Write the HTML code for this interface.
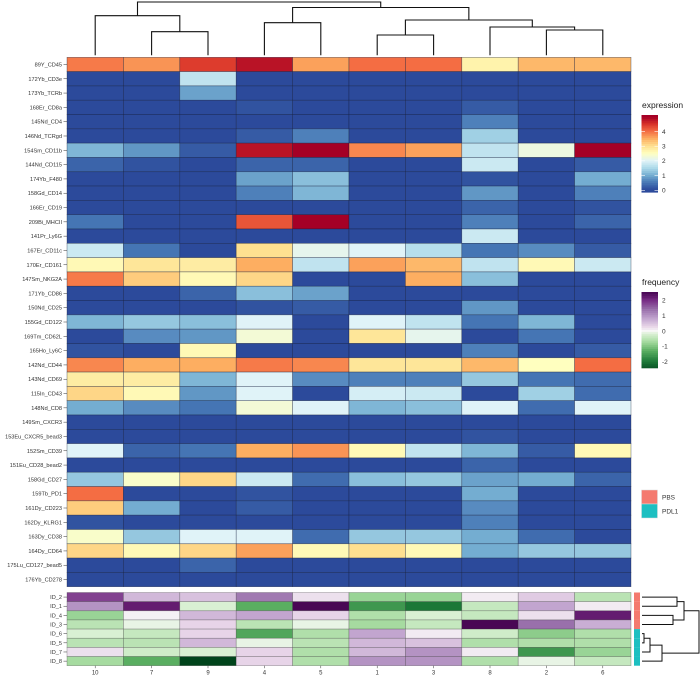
<!DOCTYPE html>
<html><head><meta charset="utf-8"><style>
html,body{margin:0;padding:0;background:#fff;}
svg{display:block;font-family:"Liberation Sans",sans-serif;}
</style></head><body>
<svg id="chart" width="700" height="677" viewBox="0 0 700 677" xmlns="http://www.w3.org/2000/svg"></svg>
<script>
const clusters=["10","7","9","4","5","1","3","8","2","6"];
const markers=["89Y_CD45","172Yb_CD3e","173Yb_TCRb","168Er_CD8a","145Nd_CD4","146Nd_TCRgd","154Sm_CD11b","144Nd_CD115","174Yb_F480","158Gd_CD14","166Er_CD19","209Bi_MHCII","141Pr_Ly6G","167Er_CD11c","170Er_CD161","147Sm_NKG2A","171Yb_CD86","150Nd_CD25","155Gd_CD122","169Tm_CD62L","165Ho_Ly6C","142Nd_CD44","143Nd_CD69","115In_CD43","148Nd_CD8","149Sm_CXCR3","153Eu_CXCR5_bead3","152Sm_CD39","151Eu_CD28_bead2","158Gd_CD27","159Tb_PD1","161Dy_CD223","162Dy_KLRG1","163Dy_CD38","164Dy_CD64","175Lu_CD127_bead5","176Yb_CD278"];
const expression=[
[3.9,3.7,4.4,4.8,3.6,4.0,4.0,2.7,3.4,3.4],
[0,0,1.7,0,0,0,0,0,0,0],
[0,0,0.9,0,0,0,0,0,0,0],
[0,0,0,0.1,0,0,0,0.2,0,0],
[0,0,0,0,0,0,0,0.6,0,0],
[0,0,0,0.2,0.6,0,0,1.4,0,0],
[1.1,0.8,0.2,4.8,5.0,3.8,3.6,1.7,2.2,5.0],
[0.3,0.1,0,0.3,0.3,0,0,1.8,0,0.2],
[0,0,0,0.9,1.2,0,0,0.1,0,1.0],
[0,0,0,0.6,1.1,0,0,0.8,0,0.6],
[0,0,0,0,0,0,0,0.3,0,0.1],
[0.5,0,0,4.2,5.0,0,0,0.6,0,0.3],
[0,0,0,0,0,0,0,1.8,0,0],
[1.8,0.5,0,3.0,2.1,2.0,1.6,0.5,0.7,0.2],
[2.6,2.9,2.8,3.5,1.7,3.6,3.4,1.7,2.6,1.8],
[3.9,3.2,2.6,3.1,0,0,3.5,1.2,0,0],
[0,0,0.3,1.2,0.9,0,0,0,0,0],
[0,0,0,0.1,0.2,0,0,0.8,0,0],
[1.1,1.3,1.2,2.0,0,2.0,1.7,0.5,1.1,0],
[0,0.7,0.8,2.3,0,2.9,2.1,0,0.5,0],
[0.1,0,2.6,0,0,0,0,0.6,0,0.2],
[3.8,3.5,3.5,3.9,3.8,2.9,2.9,3.4,2.5,4.0],
[2.8,2.8,1.1,2.0,0.7,0.6,0.6,1.3,0.5,0.4],
[3.1,2.6,0.8,2.0,0,1.9,1.8,0,1.4,0.4],
[1.0,0.7,0.5,2.3,2.0,1.1,1.2,2.0,0.4,2.0],
[0,0,0,0,0,0,0,0,0,0],
[0,0,0,0,0,0,0,0.1,0,0],
[2.0,0.3,0.5,3.5,3.7,2.6,1.7,1.1,0.2,2.6],
[0,0,0,0,0,0,0,0.3,0,0],
[1.3,2.4,3.1,1.8,0.4,1.2,1.3,0.9,1.0,0.3],
[4.0,0,0,0.1,0,0,0,1.0,0,0],
[3.2,1.0,0,0.2,0,0,0,0.7,0,0],
[0.1,0,0,0,0,0,0,0.6,0,0],
[2.4,1.3,2.0,2.0,0.4,1.3,1.3,1.0,0.4,0],
[3.1,2.6,3.1,3.6,2.6,3.0,2.6,1.0,1.3,1.3],
[0,0,0.3,0,0,0,0,0,0,0],
[0,0,0,0,0,0,0,0,0,0]];
const samples=["ID_2","ID_1","ID_4","ID_3","ID_6","ID_5","ID_7","ID_8"];
const sampleGroup=["PBS","PBS","PBS","PBS","PDL1","PDL1","PDL1","PDL1"];
const frequency=[
[1.8,0.6,0.5,1.3,0.2,-0.8,-0.8,0.1,0.4,-0.5],
[1.0,2.2,-0.2,-1.3,2.5,-1.6,-2.0,-0.4,0.8,0.1],
[-0.8,0.05,0.6,0.8,0.3,-0.6,-0.2,-0.4,0.2,2.2],
[-0.5,-0.1,0.3,-0.5,-0.1,-0.7,-0.4,2.5,1.4,0.7],
[-0.2,-0.4,0.3,-1.4,-0.6,0.8,0.1,-0.3,-0.9,-0.6],
[-0.5,-0.5,0.6,-0.1,-0.5,0.6,0.5,-0.6,-0.6,-0.6],
[0.2,-0.3,-0.2,0.3,-0.6,0.6,1.0,0.1,-1.6,-0.8],
[-0.7,-1.3,-2.6,0.3,-0.6,1.0,1.0,-0.6,-0.1,-0.4]];
const expTicks=[0,1,2,3,4];
const freqTicks=[2,1,0,-1,-2];
// column dendrogram merges: [a,b,heightY]; leaves are indices, nodes "n#"
const colMerges=[[1,2,31.7],[7+1,9,30],[0,"n0",15.7],[3,4,22.7],[5,6,35],[7,"n1",27],["n4","n5",20],["n3","n6",7.5],["n2","n7",2]];
const rowMerges=[[0,1,677],[2,3,673],[4,5,644],["n2",6,650],["n3",7,662],["n0","n1",684],["n4","n5",699]];

const NS="http://www.w3.org/2000/svg",svg=document.getElementById("chart");
function mk(t,a,p){const e=document.createElementNS(NS,t);for(const k in a)e.setAttribute(k,a[k]);(p||svg).appendChild(e);return e;}
const X0=67,X1=631,Y0=57.3,Y1=586.7,BY0=592.5,BY1=665.7;
const cw=(X1-X0)/clusters.length,rh=(Y1-Y0)/markers.length,brh=(BY1-BY0)/samples.length;
const xc=i=>X0+i*cw, yr=i=>Y0+i*rh, yb=i=>BY0+i*brh;
function lerp(stops,v){if(v<=stops[0][0])return stops[0][1];for(let i=1;i<stops.length;i++){if(v<=stops[i][0]){const a=stops[i-1],b=stops[i],t=(v-a[0])/(b[0]-a[0]);const c1=a[1],c2=b[1];const h=s=>[1,3,5].map(j=>parseInt(s.substr(j,2),16));const p=h(c1),q=h(c2);return"rgb("+p.map((x,k)=>Math.round(x+(q[k]-x)*t)).join(",")+")";}}return stops[stops.length-1][1];}
const expStops=[[0,"#2c4a9b"],[0.5,"#4575b4"],[1,"#74add1"],[1.5,"#abd9e9"],[2,"#e0f3f8"],[2.5,"#ffffbf"],[3,"#fee090"],[3.5,"#fdae61"],[4,"#f46d43"],[4.5,"#d73027"],[5,"#a50026"]];
const frStops=[[-2.6,"#00441b"],[-2,"#1b7837"],[-1.3,"#5aae61"],[-0.7,"#a6dba0"],[-0.2,"#d9f0d3"],[0,"#f7f7f7"],[0.3,"#e7d4e8"],[0.8,"#c2a5cf"],[1.4,"#9970ab"],[2,"#762a83"],[2.6,"#40004b"]];
const expColor=v=>lerp(expStops,v), frColor=v=>lerp(frStops,v);

// main heatmap
const g1=mk("g",{});
expression.forEach((row,r)=>row.forEach((v,c)=>{const e=mk("rect",{x:xc(c),y:yr(r),width:cw,height:rh,fill:expColor(v),stroke:"rgba(20,30,60,0.55)","stroke-width":0.6},g1);

}));
markers.forEach((m,r)=>{const t=mk("text",{x:62,y:yr(r)+rh/2+2,"text-anchor":"end","font-size":5.6,fill:"#333"});t.textContent=m;


mk("line",{x1:63.5,x2:67,y1:yr(r)+rh/2,y2:yr(r)+rh/2,stroke:"#333","stroke-width":0.5});});

// bottom heatmap
const g2=mk("g",{});
frequency.forEach((row,r)=>row.forEach((v,c)=>{const e=mk("rect",{x:xc(c),y:yb(r),width:cw,height:brh,fill:frColor(v),stroke:"rgba(60,60,60,0.45)","stroke-width":0.6},g2);

}));
samples.forEach((s,r)=>{const t=mk("text",{x:62,y:yb(r)+brh/2+2,"text-anchor":"end","font-size":5.6,fill:"#333"});t.textContent=s;


mk("line",{x1:63.5,x2:67,y1:yb(r)+brh/2,y2:yb(r)+brh/2,stroke:"#333","stroke-width":0.5});
const a=mk("rect",{x:634,y:yb(r),width:6,height:brh,fill:sampleGroup[r]==="PBS"?"#f47a6f":"#1dbfc1"});

});
clusters.forEach((c,i)=>{mk("line",{x1:xc(i)+cw/2,x2:xc(i)+cw/2,y1:BY1,y2:BY1+2.5,stroke:"#333","stroke-width":0.5});
const t=mk("text",{x:xc(i)+cw/2,y:674.5,"text-anchor":"middle","font-size":6,fill:"#333"});t.textContent=c;

});

// column dendrogram
const gd=mk("g",{stroke:"#111","stroke-width":1.1,fill:"none"});
const cn=[];const cpos=a=>typeof a==="string"?cn[+a.slice(1)]:{x:xc(a)+cw/2,y:Y0-2};
colMerges.forEach(m=>{const a=cpos(m[0]),b=cpos(m[1]),h=m[2];mk("path",{d:`M${a.x},${a.y}V${h}H${b.x}V${b.y}`},gd);cn.push({x:(a.x+b.x)/2,y:h});});
// row dendrogram
const gr=mk("g",{stroke:"#111","stroke-width":1,fill:"none"});
const rn=[];const rpos=a=>typeof a==="string"?rn[+a.slice(1)]:{x:642,y:yb(a)+brh/2};
rowMerges.forEach(m=>{const a=rpos(m[0]),b=rpos(m[1]),h=m[2];mk("path",{d:`M${a.x},${a.y}H${h}V${b.y}H${b.x}`},gr);rn.push({x:h,y:(a.y+b.y)/2});});

// expression legend
let t=mk("text",{x:642,y:108,"font-size":8.5,fill:"#222"});t.textContent="expression";

const eTop=115,ePer=14.7,eZero=190.3,eMax=(eZero-eTop)/ePer;
for(let i=0;i<40;i++){const v0=eMax-(i+0.5)*(eMax+0.15)/40;mk("rect",{x:641.5,y:eTop+i*(eZero+2-eTop)/40,width:16.5,height:(eZero+2-eTop)/40+0.3,fill:expColor(v0)});}
expTicks.forEach(v=>{const y=eZero-v*ePer;mk("line",{x1:641.5,x2:645,y1:y,y2:y,stroke:"#fff","stroke-width":0.6});mk("line",{x1:654.5,x2:658,y1:y,y2:y,stroke:"#fff","stroke-width":0.6});
const l=mk("text",{x:662,y:y+2.3,"font-size":6.5,fill:"#333"});l.textContent=v;
});
// frequency legend
t=mk("text",{x:642,y:285,"font-size":8.5,fill:"#222"});t.textContent="frequency";

const fTop=292,fBot=368,fZero=331,fPer=15.4;
for(let i=0;i<40;i++){const y=fTop+i*(fBot-fTop)/40;const v=(fZero-(y+(fBot-fTop)/80))/fPer;mk("rect",{x:641.5,y:y,width:16.5,height:(fBot-fTop)/40+0.3,fill:frColor(v)});}
freqTicks.forEach(v=>{const y=fZero-v*fPer;
const l=mk("text",{x:662,y:y+2.3,"font-size":6.5,fill:"#333"});l.textContent=v;
});
// group legend
[["PBS","#f47a6f",490],["PDL1","#1dbfc1",504]].forEach(d=>{const r=mk("rect",{x:641.5,y:d[2],width:16,height:14,fill:d[1],stroke:"#ddd","stroke-width":0.5});

const l=mk("text",{x:662,y:d[2]+9.5,"font-size":6.5,fill:"#333"});l.textContent=d[0];
});
</script>
</body></html>
